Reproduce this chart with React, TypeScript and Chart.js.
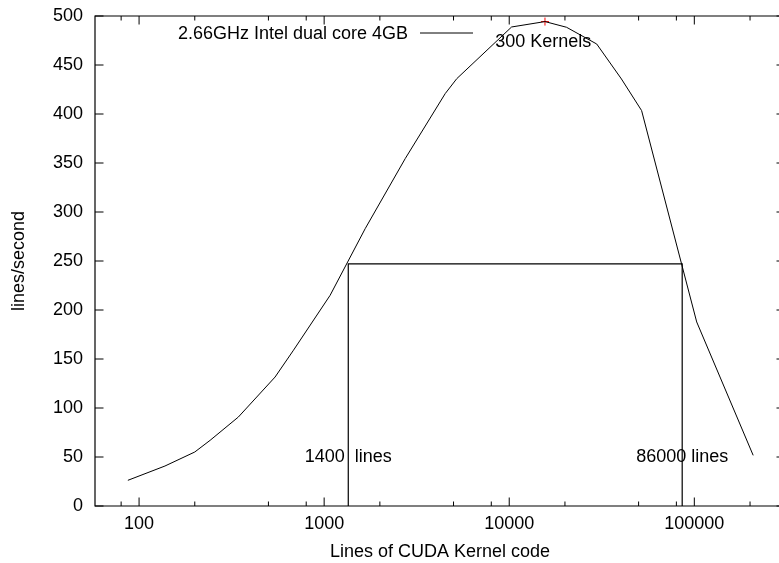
import { useEffect, useRef } from 'react';
import { Chart, registerables } from 'chart.js';

Chart.register(...registerables);

// Measured curve: lines of CUDA kernel code vs. lines/second
const linesOfCode = [87, 138, 200, 242, 344, 543, 683, 1077, 1666, 2742, 4508, 5210, 10300, 15600, 20400, 29700, 40400, 51900, 103000, 208000];
const linesPerSecond = [26.2, 40.8, 55.1, 67, 90.8, 131.6, 159, 215, 283, 354.5, 420.8, 436.1, 488.8, 494.3, 488.5, 471.4, 435.7, 403.5, 187.8, 51.7];

// Peak marker (300 kernels)
const peakX = [15600];
const peakY = [494.3];

// Half-maximum bracket
const bracketX = [1350, 1350, 86000, 86000];
const bracketY = [0, 247, 247, 0];

// Axis ticks
const xMajorTicks = [100, 1000, 10000, 100000];
const xMinorTicks = [80, 200, 500, 800, 2000, 5000, 8000, 20000, 50000, 80000, 200000];
const yTicks = [0, 50, 100, 150, 200, 250, 300, 350, 400, 450, 500];

// Texts
const seriesLabel = '2.66GHz Intel dual core 4GB';
const xTitle = 'Lines of CUDA Kernel code';
const yTitle = 'lines/second';
const noteTexts = ['300 Kernels', '1400  lines', '86000 lines'];
const noteX = [8400, 1350, 86000];
const noteY = [473.5, 50, 50];
const noteAlign = ['left', 'center', 'center'];

const FONT = '"Liberation Sans", Arial, Helvetica, sans-serif';

const framePlugin = {
  id: 'gnuplotFrame',
  afterDraw(chart: any) {
    const { ctx, chartArea, scales } = chart;
    const xs = scales.x;
    const ys = scales.y;
    const { left, right, top, bottom } = chartArea;
    ctx.save();
    ctx.strokeStyle = '#000';
    ctx.lineWidth = 1.2;
    ctx.beginPath();
    ctx.rect(left, top, right - left, bottom - top);
    ctx.stroke();
    ctx.lineWidth = 1;
    ctx.beginPath();
    const major = 8.5;
    const minor = 4.5;
    xMajorTicks.forEach((v) => {
      const px = xs.getPixelForValue(v);
      ctx.moveTo(px, bottom); ctx.lineTo(px, bottom - major);
      ctx.moveTo(px, top); ctx.lineTo(px, top + major);
    });
    xMinorTicks.forEach((v) => {
      const px = xs.getPixelForValue(v);
      ctx.moveTo(px, bottom); ctx.lineTo(px, bottom - minor);
      ctx.moveTo(px, top); ctx.lineTo(px, top + minor);
    });
    yTicks.forEach((v) => {
      const py = ys.getPixelForValue(v);
      ctx.moveTo(left, py); ctx.lineTo(left + major, py);
      ctx.moveTo(right, py); ctx.lineTo(right - major, py);
    });
    ctx.stroke();

    // Key (text followed by line sample)
    ctx.font = `18px ${FONT}`;
    ctx.fillStyle = '#000';
    ctx.textBaseline = 'middle';
    ctx.textAlign = 'right';
    ctx.fillText(seriesLabel, 408, 34);
    ctx.beginPath();
    ctx.moveTo(420, 33);
    ctx.lineTo(473, 33);
    ctx.strokeStyle = '#000';
    ctx.lineWidth = 1;
    ctx.stroke();

    // Annotations
    noteTexts.forEach((t, i) => {
      ctx.textAlign = noteAlign[i] as CanvasTextAlign;
      ctx.fillText(t, xs.getPixelForValue(noteX[i]), ys.getPixelForValue(noteY[i]));
    });
    ctx.restore();
  },
};

export default function App() {
  const ref = useRef<HTMLCanvasElement | null>(null);

  useEffect(() => {
    if (!ref.current) return;
    const chart = new Chart(ref.current, {
      type: 'scatter',
      data: {
        datasets: [
          {
            label: seriesLabel,
            data: linesOfCode.map((x, i) => ({ x, y: linesPerSecond[i] })),
            showLine: true,
            borderColor: '#000',
            borderWidth: 1,
            pointRadius: 0,
            tension: 0,
          },
          {
            label: 'bracket',
            data: bracketX.map((x, i) => ({ x, y: bracketY[i] })),
            showLine: true,
            borderColor: '#000',
            borderWidth: 1.2,
            pointRadius: 0,
            tension: 0,
          },
          {
            label: 'peak',
            data: peakX.map((x, i) => ({ x, y: peakY[i] })),
            showLine: false,
            pointStyle: 'cross',
            pointRadius: 4,
            borderColor: '#ff0000',
            backgroundColor: '#ff0000',
            pointBorderWidth: 1,
          },
        ],
      },
      options: {
        animation: false,
        responsive: false,
        layout: { padding: { top: 16, right: 5, left: 0, bottom: 0 } },
        plugins: { legend: { display: false }, tooltip: { enabled: false } },
        scales: {
          x: {
            type: 'logarithmic',
            position: 'bottom',
            min: 57.8,
            max: 309000,
            afterBuildTicks: (s: any) => {
              s.ticks = xMajorTicks.map((v) => ({ value: v }));
            },
            afterFit: (s: any) => {
              s.height = 57;
              s.paddingLeft = 0;
              s.paddingRight = 0;
            },
            ticks: {
              color: '#000',
              font: { family: FONT, size: 18 },
              padding: 7.7,
              maxRotation: 0,
              autoSkip: false,
              callback: (v: any) => String(v),
            },
            grid: { display: false, drawTicks: false },
            border: { display: false },
            title: {
              display: true,
              text: xTitle,
              color: '#000',
              font: { family: FONT, size: 18 },
              padding: { top: 1.2, bottom: 0 },
            },
          },
          y: {
            type: 'linear',
            min: 0,
            max: 500,
            afterBuildTicks: (s: any) => {
              s.ticks = yTicks.map((v) => ({ value: v }));
            },
            afterFit: (s: any) => {
              s.width = 95;
              s.paddingTop = 0;
              s.paddingBottom = 0;
            },
            ticks: {
              color: '#000',
              font: { family: FONT, size: 18 },
              padding: 12,
              autoSkip: false,
              callback: (v: any) => String(v),
            },
            grid: { display: false, drawTicks: false },
            border: { display: false },
            title: {
              display: true,
              text: yTitle,
              color: '#000',
              font: { family: FONT, size: 18 },
              padding: { top: 8, bottom: 0 },
            },
          },
        },
      },
      plugins: [framePlugin],
    });
    return () => chart.destroy();
  }, []);

  return (
    <div style={{ position: 'fixed', left: 0, top: 0, width: 779, height: 563, overflow: 'hidden', background: '#fff' }}>
      <canvas ref={ref} width={790} height={563} style={{ display: 'block' }} />
    </div>
  );
}
